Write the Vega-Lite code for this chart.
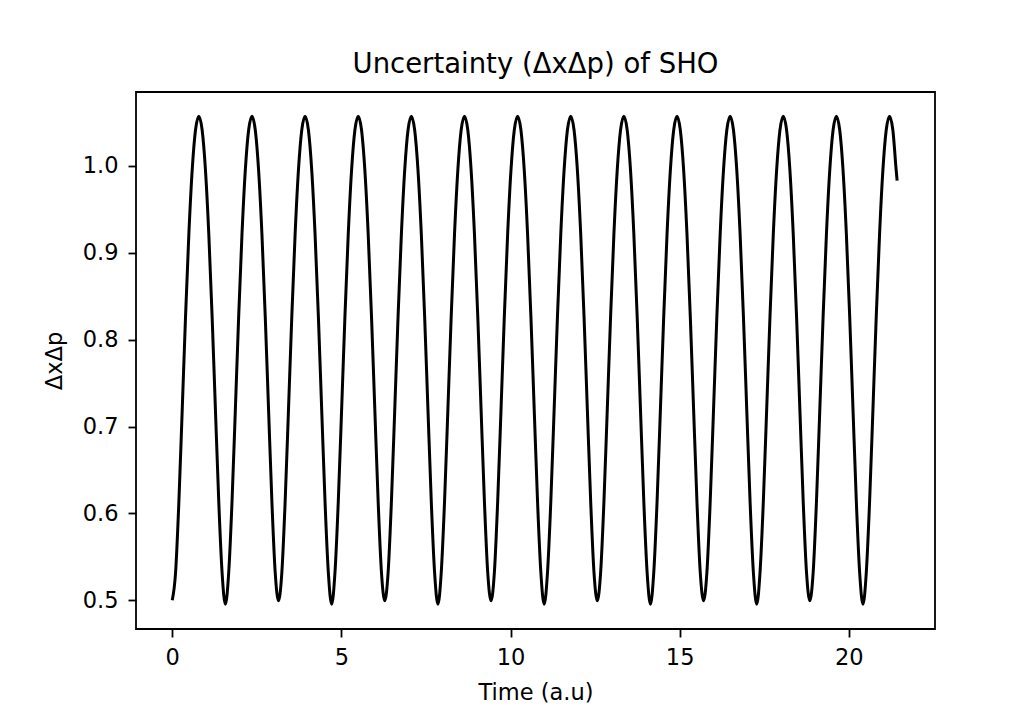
{
  "$schema": "https://vega.github.io/schema/vega-lite/v6.json",
  "width": 799,
  "height": 537,
  "autosize": {"type": "none"},
  "padding": {"left": 136, "top": 92, "right": 91, "bottom": 85},
  "background": "white",
  "title": {
    "text": "Uncertainty (ΔxΔp) of SHO",
    "font": "DejaVu Sans",
    "fontSize": 27.5,
    "fontWeight": "normal",
    "color": "black",
    "baseline": "alphabetic",
    "offset": -8,
    "anchor": "middle"
  },
  "data": {
    "values": [
      {"t":0,"y":0.5},{"t":0.0982,"y":0.532},{"t":0.1963,"y":0.614},{"t":0.2945,"y":0.7195},{"t":0.3927,"y":0.8268},{"t":0.4909,"y":0.9217},{"t":0.589,"y":0.9951},{"t":0.6872,"y":1.0413},{"t":0.7854,"y":1.057},{"t":0.8836,"y":1.0413},{"t":0.9817,"y":0.9951},{"t":1.0799,"y":0.9217},{"t":1.1781,"y":0.8268},{"t":1.2763,"y":0.7195},{"t":1.3744,"y":0.614},{"t":1.4726,"y":0.532},
      {"t":1.5708,"y":0.4955},{"t":1.669,"y":0.532},{"t":1.7671,"y":0.614},{"t":1.8653,"y":0.7195},{"t":1.9635,"y":0.8268},{"t":2.0617,"y":0.9217},{"t":2.1598,"y":0.9951},{"t":2.258,"y":1.0413},{"t":2.3562,"y":1.057},{"t":2.4544,"y":1.0413},{"t":2.5525,"y":0.9951},{"t":2.6507,"y":0.9217},{"t":2.7489,"y":0.8268},{"t":2.8471,"y":0.7195},{"t":2.9452,"y":0.614},{"t":3.0434,"y":0.532},
      {"t":3.1416,"y":0.4995},{"t":3.2398,"y":0.532},{"t":3.3379,"y":0.614},{"t":3.4361,"y":0.7195},{"t":3.5343,"y":0.8268},{"t":3.6325,"y":0.9217},{"t":3.7306,"y":0.9951},{"t":3.8288,"y":1.0413},{"t":3.927,"y":1.057},{"t":4.0252,"y":1.0413},{"t":4.1233,"y":0.9951},{"t":4.2215,"y":0.9217},{"t":4.3197,"y":0.8268},{"t":4.4179,"y":0.7195},{"t":4.516,"y":0.614},{"t":4.6142,"y":0.532},
      {"t":4.7124,"y":0.4955},{"t":4.8106,"y":0.532},{"t":4.9087,"y":0.614},{"t":5.0069,"y":0.7195},{"t":5.1051,"y":0.8268},{"t":5.2033,"y":0.9217},{"t":5.3014,"y":0.9951},{"t":5.3996,"y":1.0413},{"t":5.4978,"y":1.057},{"t":5.596,"y":1.0413},{"t":5.6941,"y":0.9951},{"t":5.7923,"y":0.9217},{"t":5.8905,"y":0.8268},{"t":5.9887,"y":0.7195},{"t":6.0868,"y":0.614},{"t":6.185,"y":0.532},
      {"t":6.2832,"y":0.4995},{"t":6.3814,"y":0.532},{"t":6.4795,"y":0.614},{"t":6.5777,"y":0.7195},{"t":6.6759,"y":0.8268},{"t":6.7741,"y":0.9217},{"t":6.8722,"y":0.9951},{"t":6.9704,"y":1.0413},{"t":7.0686,"y":1.057},{"t":7.1668,"y":1.0413},{"t":7.2649,"y":0.9951},{"t":7.3631,"y":0.9217},{"t":7.4613,"y":0.8268},{"t":7.5595,"y":0.7195},{"t":7.6576,"y":0.614},{"t":7.7558,"y":0.532},
      {"t":7.854,"y":0.4955},{"t":7.9522,"y":0.532},{"t":8.0503,"y":0.614},{"t":8.1485,"y":0.7195},{"t":8.2467,"y":0.8268},{"t":8.3449,"y":0.9217},{"t":8.443,"y":0.9951},{"t":8.5412,"y":1.0413},{"t":8.6394,"y":1.057},{"t":8.7376,"y":1.0413},{"t":8.8357,"y":0.9951},{"t":8.9339,"y":0.9217},{"t":9.0321,"y":0.8268},{"t":9.1303,"y":0.7195},{"t":9.2284,"y":0.614},{"t":9.3266,"y":0.532},
      {"t":9.4248,"y":0.4995},{"t":9.523,"y":0.532},{"t":9.6211,"y":0.614},{"t":9.7193,"y":0.7195},{"t":9.8175,"y":0.8268},{"t":9.9157,"y":0.9217},{"t":10.0138,"y":0.9951},{"t":10.112,"y":1.0413},{"t":10.2102,"y":1.057},{"t":10.3084,"y":1.0413},{"t":10.4065,"y":0.9951},{"t":10.5047,"y":0.9217},{"t":10.6029,"y":0.8268},{"t":10.7011,"y":0.7195},{"t":10.7992,"y":0.614},{"t":10.8974,"y":0.532},
      {"t":10.9956,"y":0.4955},{"t":11.0938,"y":0.532},{"t":11.1919,"y":0.614},{"t":11.2901,"y":0.7195},{"t":11.3883,"y":0.8268},{"t":11.4865,"y":0.9217},{"t":11.5846,"y":0.9951},{"t":11.6828,"y":1.0413},{"t":11.781,"y":1.057},{"t":11.8792,"y":1.0413},{"t":11.9773,"y":0.9951},{"t":12.0755,"y":0.9217},{"t":12.1737,"y":0.8268},{"t":12.2719,"y":0.7195},{"t":12.37,"y":0.614},{"t":12.4682,"y":0.532},
      {"t":12.5664,"y":0.4995},{"t":12.6646,"y":0.532},{"t":12.7627,"y":0.614},{"t":12.8609,"y":0.7195},{"t":12.9591,"y":0.8268},{"t":13.0573,"y":0.9217},{"t":13.1554,"y":0.9951},{"t":13.2536,"y":1.0413},{"t":13.3518,"y":1.057},{"t":13.45,"y":1.0413},{"t":13.5481,"y":0.9951},{"t":13.6463,"y":0.9217},{"t":13.7445,"y":0.8268},{"t":13.8427,"y":0.7195},{"t":13.9408,"y":0.614},{"t":14.039,"y":0.532},
      {"t":14.1372,"y":0.4955},{"t":14.2354,"y":0.532},{"t":14.3335,"y":0.614},{"t":14.4317,"y":0.7195},{"t":14.5299,"y":0.8268},{"t":14.6281,"y":0.9217},{"t":14.7262,"y":0.9951},{"t":14.8244,"y":1.0413},{"t":14.9226,"y":1.057},{"t":15.0208,"y":1.0413},{"t":15.1189,"y":0.9951},{"t":15.2171,"y":0.9217},{"t":15.3153,"y":0.8268},{"t":15.4135,"y":0.7195},{"t":15.5116,"y":0.614},{"t":15.6098,"y":0.532},
      {"t":15.708,"y":0.4995},{"t":15.8062,"y":0.532},{"t":15.9043,"y":0.614},{"t":16.0025,"y":0.7195},{"t":16.1007,"y":0.8268},{"t":16.1989,"y":0.9217},{"t":16.297,"y":0.9951},{"t":16.3952,"y":1.0413},{"t":16.4934,"y":1.057},{"t":16.5916,"y":1.0413},{"t":16.6897,"y":0.9951},{"t":16.7879,"y":0.9217},{"t":16.8861,"y":0.8268},{"t":16.9843,"y":0.7195},{"t":17.0824,"y":0.614},{"t":17.1806,"y":0.532},
      {"t":17.2788,"y":0.4955},{"t":17.377,"y":0.532},{"t":17.4751,"y":0.614},{"t":17.5733,"y":0.7195},{"t":17.6715,"y":0.8268},{"t":17.7697,"y":0.9217},{"t":17.8678,"y":0.9951},{"t":17.966,"y":1.0413},{"t":18.0642,"y":1.057},{"t":18.1624,"y":1.0413},{"t":18.2605,"y":0.9951},{"t":18.3587,"y":0.9217},{"t":18.4569,"y":0.8268},{"t":18.5551,"y":0.7195},{"t":18.6532,"y":0.614},{"t":18.7514,"y":0.532},
      {"t":18.8496,"y":0.4995},{"t":18.9478,"y":0.532},{"t":19.0459,"y":0.614},{"t":19.1441,"y":0.7195},{"t":19.2423,"y":0.8268},{"t":19.3405,"y":0.9217},{"t":19.4386,"y":0.9951},{"t":19.5368,"y":1.0413},{"t":19.635,"y":1.057},{"t":19.7332,"y":1.0413},{"t":19.8313,"y":0.9951},{"t":19.9295,"y":0.9217},{"t":20.0277,"y":0.8268},{"t":20.1259,"y":0.7195},{"t":20.224,"y":0.614},{"t":20.3222,"y":0.532},
      {"t":20.4204,"y":0.4955},{"t":20.5186,"y":0.532},{"t":20.6167,"y":0.614},{"t":20.7149,"y":0.7195},{"t":20.8131,"y":0.8268},{"t":20.9113,"y":0.9217},{"t":21.0094,"y":0.9951},{"t":21.1076,"y":1.0413},{"t":21.2058,"y":1.057},{"t":21.304,"y":1.0413},{"t":21.4021,"y":0.9951},{"t":21.43,"y":0.983}
    ]
  },
  "mark": {"type": "line", "color": "black", "strokeWidth": 3, "interpolate": "monotone", "clip": true},
  "encoding": {
    "x": {
      "field": "t",
      "type": "quantitative",
      "scale": {"domain": [-1.072, 22.55], "nice": false, "zero": false},
      "axis": {
        "title": "Time (a.u)",
        "values": [0, 5, 10, 15, 20],
        "format": "d",
        "labelPadding": 9.6,
        "titlePadding": 12
      }
    },
    "y": {
      "field": "y",
      "type": "quantitative",
      "scale": {"domain": [0.467, 1.085], "nice": false, "zero": false},
      "axis": {
        "title": "ΔxΔp",
        "values": [0.5, 0.6, 0.7, 0.8, 0.9, 1.0],
        "format": ".1f",
        "labelPadding": 10,
        "titlePadding": 16
      }
    }
  },
  "config": {
    "font": "DejaVu Sans",
    "view": {"stroke": "black", "strokeWidth": 1.8},
    "axis": {
      "grid": false,
      "domain": false,
      "ticks": true,
      "tickSize": 8,
      "tickWidth": 1.8,
      "tickColor": "black",
      "labelFont": "DejaVu Sans",
      "labelFontSize": 22.5,
      "labelColor": "black",
      "titleFont": "DejaVu Sans",
      "titleFontSize": 22.5,
      "titleFontWeight": "normal",
      "titleColor": "black",
      "labelFlush": false,
      "labelOverlap": false
    }
  }
}
